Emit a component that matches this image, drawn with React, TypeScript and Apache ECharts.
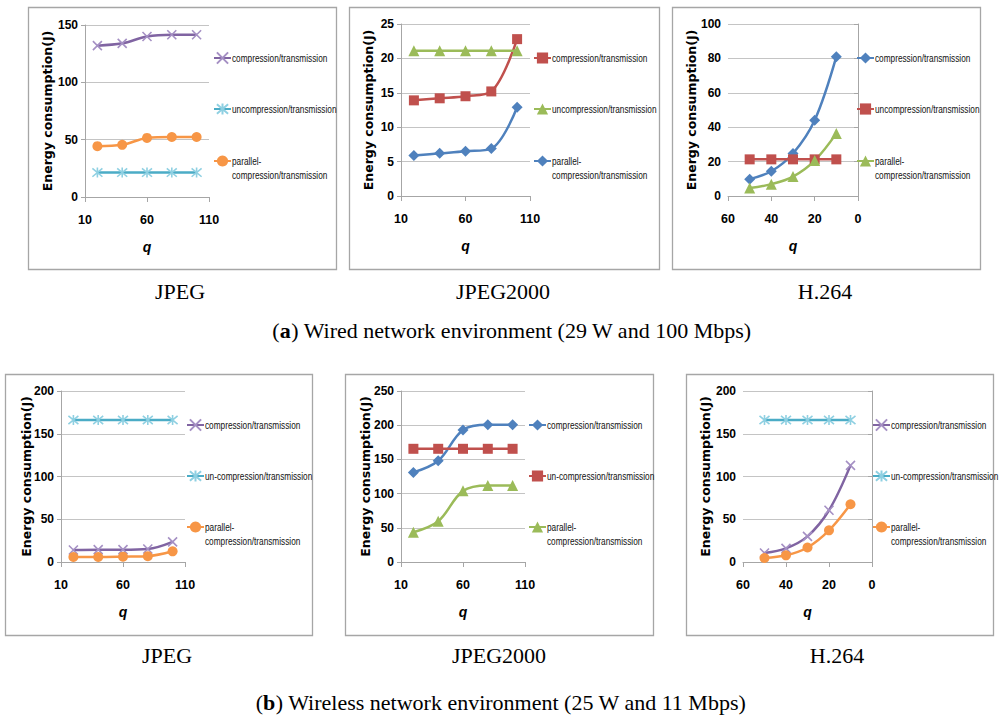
import * as echarts from "echarts";
import { useEffect, useRef } from "react";

// quality factor q at each measured point
const jpegQ = [20, 40, 60, 80, 100];
const h264Q = [50, 40, 30, 20, 10];

// (a) wired network
const wiredJpegComp = [132, 134, 140, 141.5, 141.5];
const wiredJpegUncomp = [21.3, 21.3, 21.3, 21.3, 21.3];
const wiredJpegParallel = [44.3, 45.5, 51.5, 52.3, 52.3];

const wiredJ2kComp = [13.9, 14.2, 14.5, 15.2, 22.8];
const wiredJ2kUncomp = [21.1, 21.1, 21.1, 21.1, 21.1];
const wiredJ2kParallel = [5.9, 6.2, 6.5, 6.9, 12.9];

const wiredH264Comp = [9.8, 14.4, 24.7, 44, 81];
const wiredH264Uncomp = [21.3, 21.3, 21.3, 21.3, 21.3];
const wiredH264Parallel = [4.6, 6.9, 11.3, 20.6, 36.4];

// (b) wireless network
const wirelessJpegComp = [14, 14.4, 14.4, 15.2, 23.5];
const wirelessJpegUncomp = [166, 166, 166, 166, 166];
const wirelessJpegParallel = [5.8, 5.8, 6.2, 6.8, 12.5];

const wirelessJ2kComp = [131, 148, 193, 200.5, 200.5];
const wirelessJ2kUncomp = [165.5, 165.5, 165.5, 165.5, 165.5];
const wirelessJ2kParallel = [43.5, 59.5, 104, 112, 112];

const wirelessH264Comp = [10.5, 16, 30, 60.5, 113];
const wirelessH264Uncomp = [166, 166, 166, 166, 166];
const wirelessH264Parallel = [4.7, 7.8, 17, 37, 67.5];

const COMP = "compression/transmission";
const UNCOMP = "uncompression/transmission";
const UNCOMP_B = "un-compression/transmission";
const PARALLEL = "parallel-compression/transmission";

const C = {
  purple: "#8064A2",
  purpleMark: "#A590C4",
  aqua: "#4BACC6",
  aquaMark: "#8FD0E2",
  orange: "#F79646",
  red: "#C0504D",
  green: "#9BBB59",
  blue: "#4F81BD",
};

const X_SYMBOL = "path://M0,0L10,10M10,0L0,10";
const STAR_SYMBOL = "path://M0,0L10,10M10,0L0,10M5,-1L5,11";

const SANS = "'Liberation Sans', Arial, sans-serif";
const SERIF = "'Liberation Serif', 'Times New Roman', serif";

type Line = {
  label: string;
  color: string;
  mark: string;
  symbol: string;
  size: number;
  stroke?: boolean;
  q: number[];
  values: number[];
};

type Panel = {
  key: string;
  grid: { left: number; top: number; width: number; height: number };
  box: [number, number, number, number];
  h264: boolean;
  yMax: number;
  yInterval: number;
  nameGap: number;
  legendX: number;
  legendY: number[];
  lines: Line[];
};

const purpleX = (q: number[], values: number[]): Line => ({
  label: COMP, color: C.purple, mark: C.purpleMark, symbol: X_SYMBOL, size: 9, stroke: true, q, values,
});
const aquaStar = (label: string, q: number[], values: number[]): Line => ({
  label, color: C.aqua, mark: C.aquaMark, symbol: STAR_SYMBOL, size: 10, stroke: true, q, values,
});
const orangeDot = (q: number[], values: number[]): Line => ({
  label: PARALLEL, color: C.orange, mark: C.orange, symbol: "circle", size: 10, q, values,
});

const panels: Panel[] = [
  {
    key: "a1",
    grid: { left: 85, top: 25, width: 124, height: 172 },
    box: [28, 7, 308, 262],
    h264: false, yMax: 150, yInterval: 50, nameGap: 31,
    legendX: 213, legendY: [58, 109, 161],
    lines: [
      purpleX(jpegQ, wiredJpegComp),
      aquaStar(UNCOMP, jpegQ, wiredJpegUncomp),
      orangeDot(jpegQ, wiredJpegParallel),
    ],
  },
  {
    key: "a2",
    grid: { left: 401, top: 24, width: 129, height: 172 },
    box: [349, 7, 310, 262],
    h264: false, yMax: 25, yInterval: 5, nameGap: 26,
    legendX: 533, legendY: [58, 109, 161],
    lines: [
      { label: COMP, color: C.red, mark: C.red, symbol: "rect", size: 10, q: jpegQ, values: wiredJ2kComp },
      { label: UNCOMP, color: C.green, mark: C.green, symbol: "triangle", size: 11, q: jpegQ, values: wiredJ2kUncomp },
      { label: PARALLEL, color: C.blue, mark: C.blue, symbol: "diamond", size: 11, q: jpegQ, values: wiredJ2kParallel },
    ],
  },
  {
    key: "a3",
    grid: { left: 728, top: 24, width: 130, height: 172 },
    box: [672, 7, 308, 262],
    h264: true, yMax: 100, yInterval: 20, nameGap: 30,
    legendX: 856, legendY: [58, 109, 161],
    lines: [
      { label: COMP, color: C.blue, mark: C.blue, symbol: "diamond", size: 11, q: h264Q, values: wiredH264Comp },
      { label: UNCOMP, color: C.red, mark: C.red, symbol: "rect", size: 10, q: h264Q, values: wiredH264Uncomp },
      { label: PARALLEL, color: C.green, mark: C.green, symbol: "triangle", size: 11, q: h264Q, values: wiredH264Parallel },
    ],
  },
  {
    key: "b1",
    grid: { left: 61, top: 391, width: 124, height: 171 },
    box: [5, 374, 307, 261],
    h264: false, yMax: 200, yInterval: 50, nameGap: 28,
    legendX: 186, legendY: [425, 476, 527],
    lines: [
      purpleX(jpegQ, wirelessJpegComp),
      aquaStar(UNCOMP_B, jpegQ, wirelessJpegUncomp),
      orangeDot(jpegQ, wirelessJpegParallel),
    ],
  },
  {
    key: "b2",
    grid: { left: 401, top: 391, width: 124, height: 171 },
    box: [345, 374, 308, 261],
    h264: false, yMax: 250, yInterval: 50, nameGap: 29,
    legendX: 528, legendY: [425, 476, 527],
    lines: [
      { label: COMP, color: C.blue, mark: C.blue, symbol: "diamond", size: 11, q: jpegQ, values: wirelessJ2kComp },
      { label: UNCOMP_B, color: C.red, mark: C.red, symbol: "rect", size: 10, q: jpegQ, values: wirelessJ2kUncomp },
      { label: PARALLEL, color: C.green, mark: C.green, symbol: "triangle", size: 11, q: jpegQ, values: wirelessJ2kParallel },
    ],
  },
  {
    key: "b3",
    grid: { left: 743, top: 391, width: 129, height: 171 },
    box: [686, 374, 307, 261],
    h264: true, yMax: 200, yInterval: 50, nameGap: 31,
    legendX: 872, legendY: [425, 476, 527],
    lines: [
      purpleX(h264Q, wirelessH264Comp),
      aquaStar(UNCOMP_B, h264Q, wirelessH264Uncomp),
      orangeDot(h264Q, wirelessH264Parallel),
    ],
  },
];

const subCaptions = [
  { text: "JPEG", x: 180, y: 291 },
  { text: "JPEG2000", x: 503, y: 291 },
  { text: "H.264", x: 825, y: 291 },
  { text: "JPEG", x: 167, y: 655 },
  { text: "JPEG2000", x: 499, y: 655 },
  { text: "H.264", x: 837, y: 655 },
];

const figCaptions = [
  { tag: "a", text: " Wired network environment (29 W and 100 Mbps)", x: 512, y: 330 },
  { tag: "b", text: " Wireless network environment (25 W and 11 Mbps)", x: 501, y: 702 },
];

const buildOption = () => {
  const grid: any[] = [];
  const xAxis: any[] = [];
  const yAxis: any[] = [];
  const series: any[] = [];
  const legend: any[] = [];
  const graphic: any[] = [];

  panels.forEach((p, i) => {
    graphic.push({
      type: "rect",
      z: -10,
      shape: { x: p.box[0] + 0.5, y: p.box[1] + 0.5, width: p.box[2], height: p.box[3] },
      style: { fill: "none", stroke: "#a6a6a6", lineWidth: 1.3 },
    });

    grid.push({ ...p.grid, containLabel: false });

    xAxis.push({
      type: "value",
      gridIndex: i,
      min: p.h264 ? 0 : 10,
      max: p.h264 ? 60 : 110,
      interval: p.h264 ? 20 : 50,
      inverse: p.h264,
      name: "q",
      nameLocation: "middle",
      nameGap: 43,
      nameMoveOverlap: false,
      nameTextStyle: { fontFamily: SANS, fontWeight: "bold", fontStyle: "italic", fontSize: 14, color: "#000" },
      axisLine: { show: true, onZero: false, lineStyle: { color: "#a6a6a6", width: 1 } },
      axisTick: { show: true, length: 5, lineStyle: { color: "#a6a6a6" } },
      splitLine: { show: false },
      axisLabel: { fontFamily: SANS, fontWeight: "bold", fontSize: 12.5, color: "#000", margin: 16 },
    });

    yAxis.push({
      type: "value",
      gridIndex: i,
      min: 0,
      max: p.yMax,
      interval: p.yInterval,
      name: "Energy consumption(J)",
      nameLocation: "middle",
      nameRotate: 90,
      nameGap: p.nameGap,
      nameMoveOverlap: false,
      nameTextStyle: { fontFamily: "'DejaVu Sans', sans-serif", fontWeight: "bold", fontSize: 12.5, color: "#000" },
      axisLine: { show: true, lineStyle: { color: "#a6a6a6", width: 1 } },
      axisTick: { show: true, length: 4, lineStyle: { color: "#a6a6a6" } },
      splitLine: { show: true, lineStyle: { color: "#c4c4c4", width: 1 } },
      axisLabel: { fontFamily: SANS, fontWeight: "bold", fontSize: 12, color: "#000", margin: 7 },
    });

    p.lines.forEach((l, j) => {
      const name = `${p.key}|${l.label}`;
      series.push({
        type: "line",
        name,
        xAxisIndex: i,
        yAxisIndex: i,
        data: l.q.map((q, k) => [q, l.values[k]]),
        smooth: 0.35,
        symbol: l.symbol,
        symbolSize: l.size,
        showAllSymbol: true,
        lineStyle: { color: l.color, width: 2.5 },
        itemStyle: l.stroke
          ? { color: l.mark, borderColor: l.mark, borderWidth: 1.6 }
          : { color: l.mark },
        emphasis: { disabled: true },
      });

      // legend icon from the legend component, condensed label drawn beside it
      const cy = p.legendY[j];
      legend.push({
        data: [name],
        orient: "vertical",
        left: p.legendX,
        top: cy - 7,
        padding: 0,
        itemWidth: 17,
        itemHeight: 14,
        selectedMode: false,
        formatter: () => "",
        textStyle: { fontSize: 10 },
      });

      const multi = l.label === PARALLEL;
      graphic.push({
        type: "text",
        x: p.legendX + 19,
        y: multi ? cy - 7 : cy,
        scaleX: 0.75,
        style: {
          text: multi ? "parallel-\ncompression/transmission" : l.label,
          fontFamily: SANS,
          fontSize: 11,
          lineHeight: 14,
          fill: "#111",
          align: "left",
          verticalAlign: multi ? "top" : "middle",
        },
      });
    });
  });

  subCaptions.forEach((c) => {
    graphic.push({
      type: "text",
      x: c.x,
      y: c.y,
      style: {
        text: c.text,
        fontFamily: SERIF,
        fontSize: 22,
        fill: "#000",
        align: "center",
        verticalAlign: "middle",
      },
    });
  });

  figCaptions.forEach((c) => {
    graphic.push({
      type: "text",
      x: c.x,
      y: c.y,
      style: {
        text: `({b|${c.tag}})${c.text}`,
        fontFamily: SERIF,
        fontSize: 22,
        fill: "#000",
        align: "center",
        verticalAlign: "middle",
        rich: { b: { fontFamily: SERIF, fontSize: 22, fontWeight: "bold", fill: "#000" } },
      },
    });
  });

  return {
    animation: false,
    backgroundColor: "#fff",
    grid,
    xAxis,
    yAxis,
    series,
    legend,
    graphic,
  };
};

export default function App() {
  const ref = useRef<HTMLDivElement>(null);

  useEffect(() => {
    if (!ref.current) return;
    const chart = echarts.init(ref.current, null, { renderer: "svg" });
    chart.setOption(buildOption());
    return () => chart.dispose();
  }, []);

  return (
    <div
      ref={ref}
      style={{ position: "absolute", left: 0, top: 0, width: 1000, height: 723, background: "#fff" }}
    />
  );
}
